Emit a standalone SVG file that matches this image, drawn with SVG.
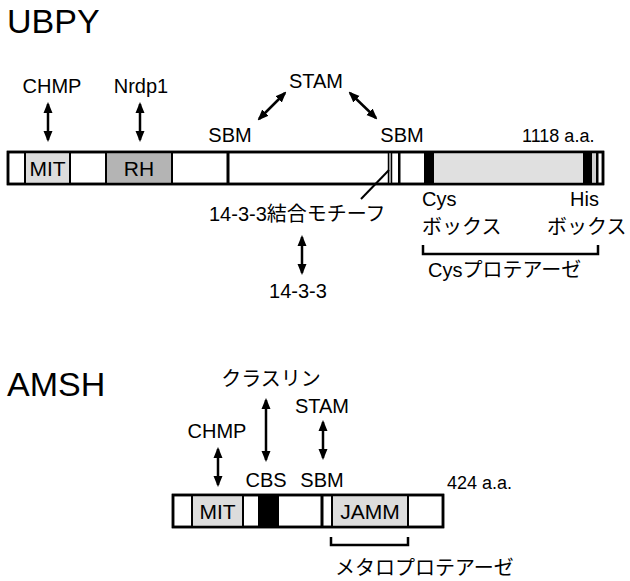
<svg xmlns="http://www.w3.org/2000/svg" width="630" height="581" viewBox="0 0 630 581">
<style>
text{font-family:"Liberation Sans","Noto Sans CJK JP",sans-serif;fill:#000;}
.t{font-size:20px;}
.d{font-size:21px;}
.s{font-size:18px;}
.big{font-size:34px;}
.mid{text-anchor:middle;}
.bar{fill:#fff;stroke:#000;stroke-width:2.5;}
.outline{fill:none;stroke:#000;stroke-width:2.5;}
.dom{stroke:#000;stroke-width:2;}
.ln{stroke:#000;fill:none;}
.arr{stroke:#000;stroke-width:2.5;fill:none;marker-start:url(#ah);marker-end:url(#ah);}
</style>
<defs>
<marker id="ah" markerUnits="userSpaceOnUse" markerWidth="11" markerHeight="10" refX="9" refY="4.5" orient="auto-start-reverse" viewBox="0 0 11 9">
<path d="M0,0 L11,4.5 L0,9 z" fill="#000"/>
</marker>
</defs>
<rect width="630" height="581" fill="#fff"/>

<g id="title-ubpy"><text class="big" x="7" y="33">UBPY</text></g>

<g id="ubpy-bar">
<rect class="bar" x="8" y="152" width="595" height="32"/>
<rect class="dom" x="25" y="152" width="45" height="32" fill="#dcdcdc"/>
<text class="d mid" x="47.5" y="176">MIT</text>
<rect class="dom" x="106" y="152" width="66" height="32" fill="#b4b4b4"/>
<text class="d mid" x="139" y="176">RH</text>
<rect x="226.5" y="152" width="3" height="32" fill="#000"/>
<rect x="388" y="152" width="4" height="32" fill="#d0d0d0"/>
<line class="ln" x1="388.5" y1="152" x2="388.5" y2="184" stroke-width="1.5"/>
<line class="ln" x1="391.5" y1="152" x2="391.5" y2="184" stroke-width="1.5"/>
<rect x="398" y="152" width="2.5" height="32" fill="#000"/>
<rect x="424" y="152" width="10" height="32" fill="#000"/>
<rect x="434" y="152" width="149" height="32" fill="#e0e0e0"/>
<rect x="583" y="152" width="9" height="32" fill="#000"/>
<rect x="592" y="152" width="4" height="32" fill="#d0d0d0"/>
<rect x="596" y="152" width="2.5" height="32" fill="#000"/>
<rect class="outline" x="8" y="152" width="595" height="32"/>
</g>

<g id="ubpy-labels">
<text class="t mid" x="52" y="93">CHMP</text>
<text class="t mid" x="141" y="93">Nrdp1</text>
<text class="t mid" x="316" y="88">STAM</text>
<text class="t mid" x="230" y="142">SBM</text>
<text class="t mid" x="402" y="142">SBM</text>
<text class="s" x="522" y="142">1118 a.a.</text>
<text class="t" x="209" y="221">14-3-3結合モチーフ</text>
<text class="t mid" x="298" y="298">14-3-3</text>
<text class="t" x="422" y="206">Cys</text>
<text class="t" x="422" y="234">ボックス</text>
<text class="t" x="570" y="206">His</text>
<text class="t" x="547" y="234">ボックス</text>
<text class="t" x="428" y="277">Cysプロテアーゼ</text>
</g>

<g id="title-amsh"><text class="big" x="7" y="396">AMSH</text></g>

<g id="amsh-bar">
<rect class="bar" x="173" y="495" width="270" height="32"/>
<rect class="dom" x="192" y="495" width="51" height="32" fill="#dcdcdc"/>
<text class="d mid" x="217.5" y="519">MIT</text>
<rect x="258" y="495" width="21" height="32" fill="#000"/>
<rect x="320.5" y="495" width="3" height="32" fill="#000"/>
<rect class="dom" x="332" y="495" width="76" height="32" fill="#dcdcdc"/>
<text class="d mid" x="370" y="519">JAMM</text>
<rect class="outline" x="173" y="495" width="270" height="32"/>
</g>

<g id="amsh-labels">
<text class="t mid" x="271" y="386">クラスリン</text>
<text class="t mid" x="322" y="413">STAM</text>
<text class="t mid" x="217" y="438">CHMP</text>
<text class="t mid" x="266" y="487">CBS</text>
<text class="t mid" x="322" y="487">SBM</text>
<text class="s" x="447" y="489">424 a.a.</text>
<text class="t" x="335" y="575">メタロプロテアーゼ</text>
</g>

<g id="connectors">
<line class="arr" x1="48" y1="104" x2="48" y2="140"/>
<line class="arr" x1="140" y1="104" x2="140" y2="140"/>
<line class="arr" x1="285" y1="93" x2="259" y2="119"/>
<line class="arr" x1="350" y1="93" x2="376" y2="118"/>
<line class="arr" x1="302" y1="237" x2="302" y2="273"/>
<line class="ln" x1="361" y1="199" x2="389" y2="170" stroke-width="2"/>
<path class="ln" d="M423,245 V254 H598 V245" stroke-width="2.5"/>
<line class="arr" x1="266" y1="400" x2="266" y2="460"/>
<line class="arr" x1="323" y1="422" x2="323" y2="458"/>
<line class="arr" x1="218" y1="449" x2="218" y2="485"/>
<path class="ln" d="M331,537 V545 H408 V537" stroke-width="2.5"/>
</g>
</svg>
